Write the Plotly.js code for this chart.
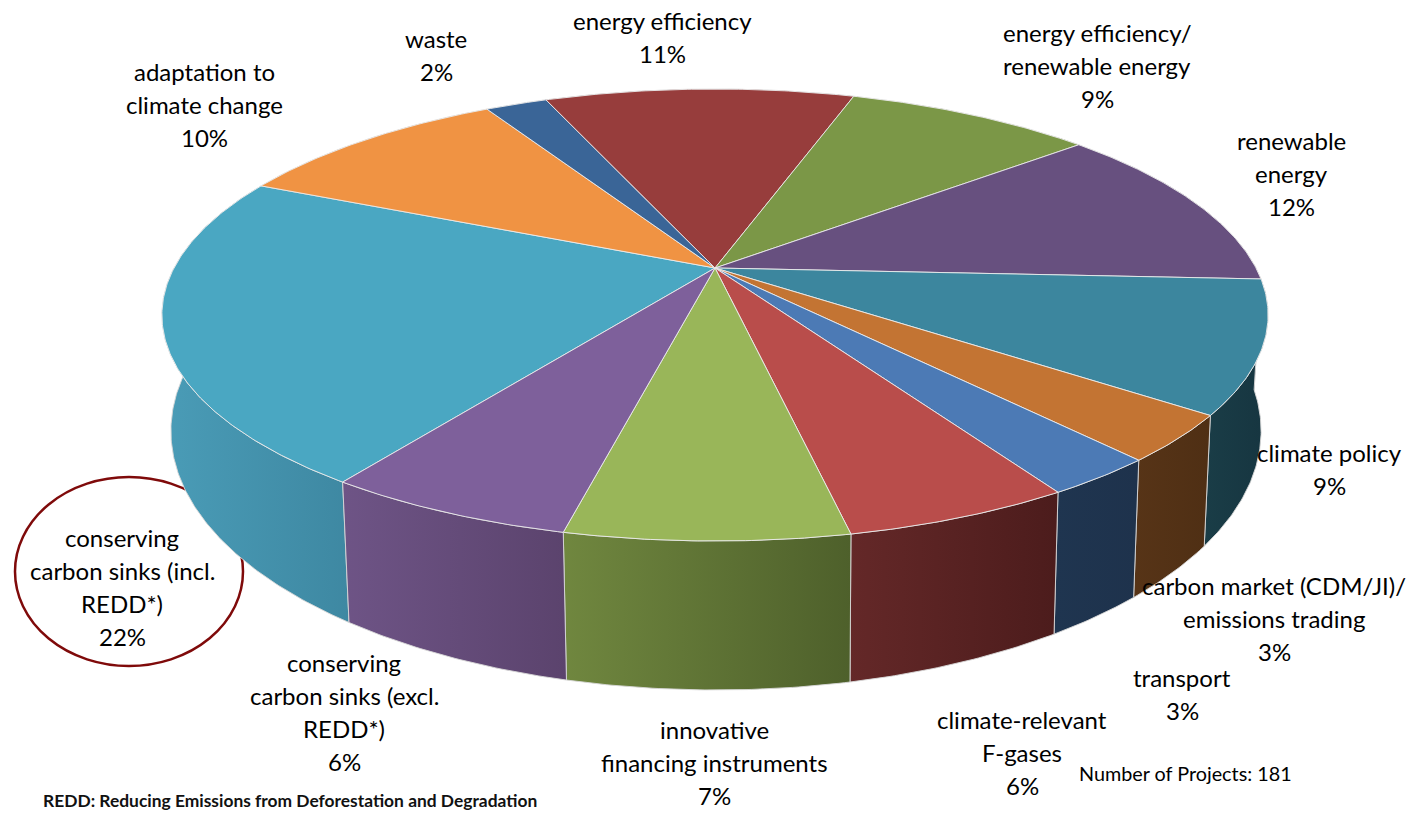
<!DOCTYPE html>
<html><head><meta charset="utf-8">
<script src="https://cdn.plot.ly/plotly-3.0.0.min.js"></script>
<style>html,body{margin:0;padding:0;background:#fff}#c{width:1411px;height:813px}</style>
</head><body><div id="c"></div>
<script>
// Data, in drawing order around the pie (slice sizes, total 181)
const categories = ["conserving carbon sinks (incl. REDD*)","adaptation to climate change","waste","energy efficiency","energy efficiency/ renewable energy","renewable energy","climate policy","carbon market (CDM/JI)/ emissions trading","transport","climate-relevant F-gases","innovative financing instruments","conserving carbon sinks (excl. REDD*)"];
const projects = [40,18,4,20,16,21.7,17,6,5,10,12.3,11];
const topColors = ["#4aa7c2","#f09343","#3a6597","#973d3c","#7b9747","#67507f","#3c869e","#c37433","#4c7ab5","#b94d4b","#99b659","#7e609b"];
const sideLeft  = ["#4a9cb7","#c87a35","#2f5480","#7d3231","#66803a","#553f6a","#1a3d47","#573417","#1f3550","#642828","#70873f","#6e5486"];
const sideRight = ["#3e88a2","#b56c2e","#2a4a72","#6e2b2a","#5a7233","#4a375c","#163540","#4f2f14","#1e324c","#4c1c1c","#4e602b","#5b436d"];
const labelLines = [["conserving","carbon sinks (incl.","REDD*)","22%"],["adaptation to","climate change","10%"],["waste","2%"],["energy efficiency","11%"],["energy efficiency/","renewable energy","9%"],["renewable","energy","12%"],["climate policy","9%"],["carbon market (CDM/JI)/","emissions trading","3%"],["transport","3%"],["climate-relevant","F-gases","6%"],["innovative","financing instruments","7%"],["conserving","carbon sinks (excl.","REDD*)","6%"]];
const labelX = [122,204,436,662,1097,1291,1329,1274,1182,1022,714,344];
const labelY = [537,71,38,20,32,140,452,585,677,719,729,662];

// Projection of the tilted disc on the page
const CX=715, CY=268, A=541, B=216.2, K=0.208, START=34.8;
// Rim ellipse and floor ellipse that carry the side wall
const RIM={x:715,y:315,a:553,b:226}, FLOOR={x:716,y:431,a:545,b:259};
const proj = deg => { const t=deg*Math.PI/180, u=-Math.sin(t), v=Math.cos(t), d=1-K*v;
  return [CX+A*u/d, CY+B*v/d]; };
const toFloor = p => [FLOOR.x+(p[0]-RIM.x)*FLOOR.a/RIM.a, FLOOR.y+(p[1]-RIM.y)*FLOOR.b/RIM.b];
const total = projects.reduce((a,b)=>a+b,0);
let acc = START;
const arcs = projects.map(s=>{ const a0=acc, a1=acc+s/total*360; acc=a1;
  const pts=[]; const n=Math.max(4,Math.ceil((a1-a0)/0.5));
  for(let i=0;i<=n;i++) pts.push(proj(a0+(a1-a0)*i/n));
  return pts; });

const traces=[];
const base={type:'scatter',mode:'lines',hoverinfo:'skip',showlegend:false,fill:'toself'};
// Side walls first, so the top disc covers their back part
arcs.forEach((pts,i)=>{
  const low = pts.map(toFloor);
  const xs = pts.map(p=>p[0]).concat(low.map(p=>p[0]).reverse()); xs.push(xs[0]);
  const ys = pts.map(p=>p[1]).concat(low.map(p=>p[1]).reverse()); ys.push(ys[0]);
  traces.push({...base,x:xs,y:ys,name:categories[i],
    line:{color:'rgba(215,215,215,0.9)',width:1},
    fillcolor:sideLeft[i],
    fillgradient:{type:'horizontal',colorscale:[[0,sideLeft[i]],[1,sideRight[i]]]}});
});
// Top disc
arcs.forEach((pts,i)=>{
  const xs=[CX].concat(pts.map(p=>p[0]),[CX]);
  const ys=[CY].concat(pts.map(p=>p[1]),[CY]);
  traces.push({...base,x:xs,y:ys,name:categories[i],
    line:{color:'rgba(235,235,235,0.9)',width:1},fillcolor:topColors[i]});
});

const FONT='Lato, "Open Sans", sans-serif', STEP=33;
const annotations=[];
labelLines.forEach((lines,i)=>lines.forEach((t,j)=>annotations.push({
  x:labelX[i],y:labelY[i]+j*STEP,xref:'x',yref:'y',text:t,showarrow:false,
  xanchor:'center',yanchor:'middle',font:{family:FONT,size:24,color:'#000'}})));
annotations.push({x:1077,y:773,xref:'x',yref:'y',text:'Number of Projects: 181',showarrow:false,
  xanchor:'left',yanchor:'middle',font:{family:FONT,size:19.8,color:'#000'}});
annotations.push({x:41,y:800,xref:'x',yref:'y',text:'<b>REDD: Reducing Emissions from Deforestation and Degradation</b>',showarrow:false,
  xanchor:'left',yanchor:'middle',font:{family:FONT,size:17.4,color:'#111'}});

Plotly.newPlot('c',traces,{
  width:1411,height:813,margin:{l:0,r:0,t:0,b:0},
  paper_bgcolor:'#fff',plot_bgcolor:'#fff',showlegend:false,hovermode:false,
  xaxis:{range:[0,1411],visible:false,fixedrange:true},
  yaxis:{range:[813,0],visible:false,fixedrange:true},
  shapes:[{type:'circle',xref:'x',yref:'y',x0:15,x1:243,y0:477,y1:666,layer:'below',
    line:{color:'#7f0a0a',width:2.5},fillcolor:'rgba(0,0,0,0)'}],
  annotations
},{displayModeBar:false,staticPlot:true});
</script></body></html>
